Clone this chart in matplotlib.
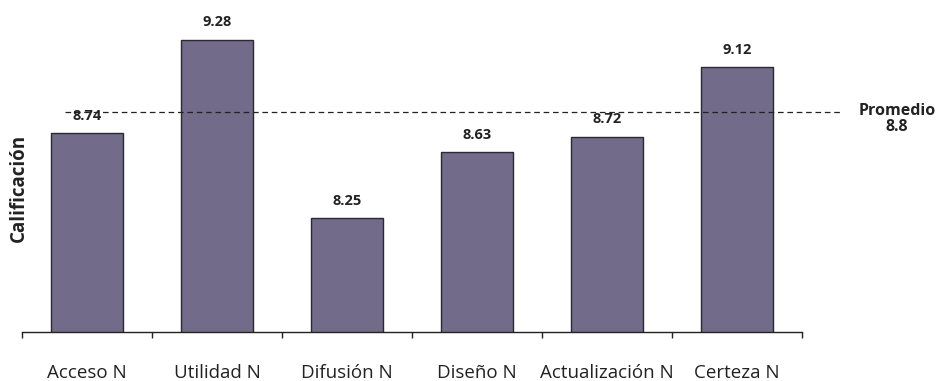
import matplotlib
matplotlib.use("Agg")
import matplotlib.pyplot as plt
import numpy as np

# datos
categorias = ["Acceso N", "Utilidad N", "Difusión N", "Diseño N", "Actualización N", "Certeza N"]
calificaciones = [8.74, 9.28, 8.25, 8.63, 8.72, 9.12]
promedio = 8.8
linea_promedio = 8.86  # altura a la que esta dibujada la linea en el original

plt.rcParams['font.family'] = ['Open Sans', 'DejaVu Sans']

fig = plt.figure(figsize=(9.4, 3.81), dpi=100)
ax = fig.add_axes([22/940, 49/381, 780/940, 332/381])

x = np.arange(len(categorias))
ax.bar(x, calificaciones, width=0.554, color='#726b8a', edgecolor='#2a2a2a', linewidth=1.0, zorder=2)

for xi, v in zip(x, calificaciones):
    ax.annotate(f"{v:.2f}", (xi, v), xytext=(0, 12.5), textcoords='offset points',
                ha='center', va='center', fontsize=10.5, fontweight='bold', color='#222222', zorder=4)

ax.axhline(linea_promedio, xmin=0.055, xmax=1.053, color='#222222', linestyle=(0, (4.5, 3)),
           linewidth=0.9, clip_on=False, zorder=3)
fig.text(897/940, 1 - 119/381, f"Promedio\n{promedio}", ha='center', va='center',
         fontsize=11.5, fontweight='bold', color='#222222', linespacing=1.0)

ax.set_xlim(-0.5, len(categorias) - 0.5)
ax.set_ylim(7.59, 9.51)

# etiquetas centradas, marcas en los limites de cada categoria
ax.set_xticks(x)
ax.set_xticklabels(categorias, fontsize=13.5, color='#222222')
ax.set_xticks(np.arange(len(categorias) + 1) - 0.5, minor=True)
ax.tick_params(axis='x', which='major', length=0, pad=23)
ax.tick_params(axis='x', which='minor', length=4.5, width=1.0, color='#222222')
ax.set_yticks([])

for s in ['left', 'right', 'top']:
    ax.spines[s].set_visible(False)
ax.spines['bottom'].set_linewidth(1.0)
ax.spines['bottom'].set_color('#222222')

fig.text(19/940, 1 - 188/381, "Calificación", rotation=90, ha='center', va='center',
         fontsize=13.5, fontweight='bold', color='#222222')

fig.savefig("out.png", dpi=100)
